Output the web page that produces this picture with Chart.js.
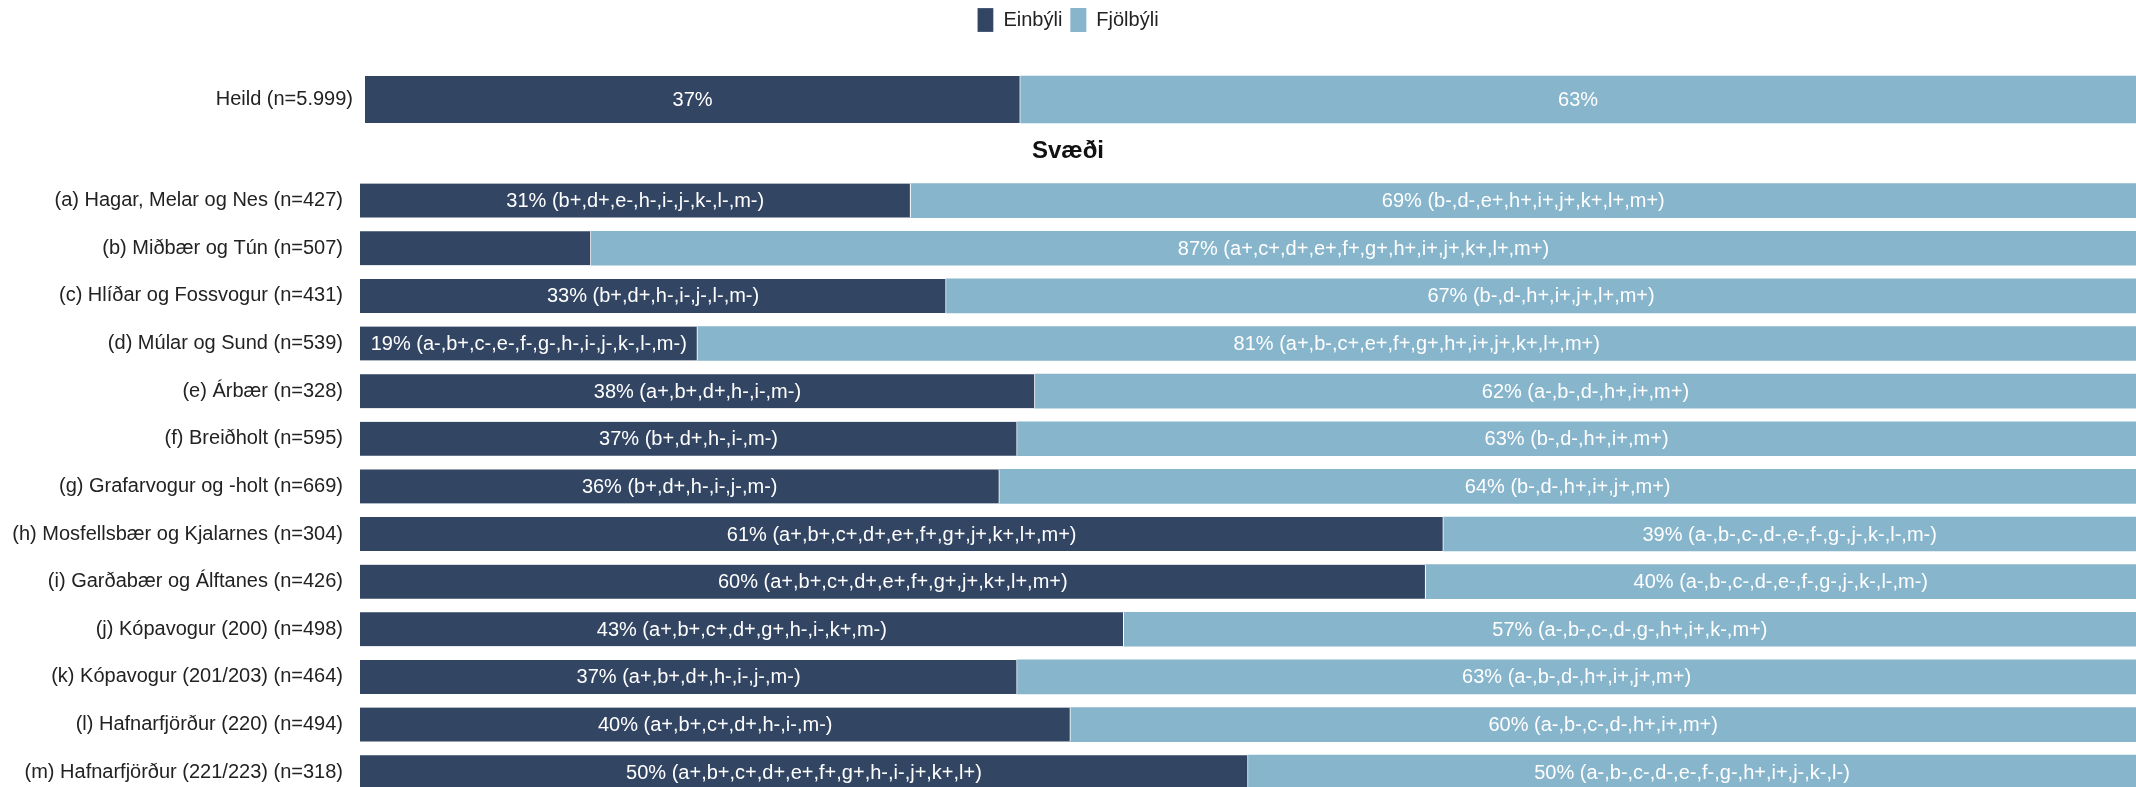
<!DOCTYPE html>
<html>
<head>
<meta charset="utf-8">
<script src="https://cdn.jsdelivr.net/npm/chart.js@4"></script>
<style>
    html, body { margin: 0; padding: 0; background: #fff; overflow: hidden; }
    body { width: 2136px; height: 787px; position: relative; }
    canvas { position: absolute; left: 0; }
    #totalChart { top: 0; }
    #regionChart { top: 130px; }
</style>
</head>
<body>
<canvas id="regionChart" width="2136" height="695"></canvas>
<canvas id="totalChart" width="2136" height="181"></canvas>
<script>
// Heild
const totalLabels = ["Heild (n=5.999)"];
const totalEinbyli = [37];
const totalFjolbyli = [63];

// Svæði
const regions = [
    "(a) Hagar, Melar og Nes (n=427)",
    "(b) Miðbær og Tún (n=507)",
    "(c) Hlíðar og Fossvogur (n=431)",
    "(d) Múlar og Sund (n=539)",
    "(e) Árbær (n=328)",
    "(f) Breiðholt (n=595)",
    "(g) Grafarvogur og -holt (n=669)",
    "(h) Mosfellsbær og Kjalarnes (n=304)",
    "(i) Garðabær og Álftanes (n=426)",
    "(j) Kópavogur (200) (n=498)",
    "(k) Kópavogur (201/203) (n=464)",
    "(l) Hafnarfjörður (220) (n=494)",
    "(m) Hafnarfjörður (221/223) (n=318)"
];
const einbyli = [31, 13, 33, 19, 38, 37, 36, 61, 60, 43, 37, 40, 50];
const fjolbyli = [69, 87, 67, 81, 62, 63, 64, 39, 40, 57, 63, 60, 50];
const einbyliSig = [
    "b+,d+,e-,h-,i-,j-,k-,l-,m-",
    "a-,c-,d-,e-,f-,g-,h-,i-,j-,k-,l-,m-",
    "b+,d+,h-,i-,j-,l-,m-",
    "a-,b+,c-,e-,f-,g-,h-,i-,j-,k-,l-,m-",
    "a+,b+,d+,h-,i-,m-",
    "b+,d+,h-,i-,m-",
    "b+,d+,h-,i-,j-,m-",
    "a+,b+,c+,d+,e+,f+,g+,j+,k+,l+,m+",
    "a+,b+,c+,d+,e+,f+,g+,j+,k+,l+,m+",
    "a+,b+,c+,d+,g+,h-,i-,k+,m-",
    "a+,b+,d+,h-,i-,j-,m-",
    "a+,b+,c+,d+,h-,i-,m-",
    "a+,b+,c+,d+,e+,f+,g+,h-,i-,j+,k+,l+"
];
const fjolbyliSig = [
    "b-,d-,e+,h+,i+,j+,k+,l+,m+",
    "a+,c+,d+,e+,f+,g+,h+,i+,j+,k+,l+,m+",
    "b-,d-,h+,i+,j+,l+,m+",
    "a+,b-,c+,e+,f+,g+,h+,i+,j+,k+,l+,m+",
    "a-,b-,d-,h+,i+,m+",
    "b-,d-,h+,i+,m+",
    "b-,d-,h+,i+,j+,m+",
    "a-,b-,c-,d-,e-,f-,g-,j-,k-,l-,m-",
    "a-,b-,c-,d-,e-,f-,g-,j-,k-,l-,m-",
    "a-,b-,c-,d-,g-,h+,i+,k-,m+",
    "a-,b-,d-,h+,i+,j+,m+",
    "a-,b-,c-,d-,h+,i+,m+",
    "a-,b-,c-,d-,e-,f-,g-,h+,i+,j-,k-,l-"
];

const DARK = "#324563";
const LIGHT = "#87b5cc";
const FONT = "'Liberation Sans', Arial, sans-serif";

Chart.defaults.font.family = FONT;
Chart.defaults.color = "#222";

// write "37% (b+,d+...)" in the middle of each segment, skip if it does not fit
const barText = {
    id: "barText",
    afterDatasetsDraw(chart) {
        const ctx = chart.ctx;
        ctx.save();
        ctx.font = "20px " + FONT;
        ctx.fillStyle = "#fff";
        ctx.textAlign = "center";
        ctx.textBaseline = "middle";
        chart.data.datasets.forEach((ds, di) => {
            const meta = chart.getDatasetMeta(di);
            meta.data.forEach((bar, i) => {
                const sig = ds.sig ? ds.sig[i] : "";
                const txt = ds.data[i] + "%" + (sig ? " (" + sig + ")" : "");
                const w = Math.abs(bar.x - bar.base);
                if (ctx.measureText(txt).width > w - 6) return;
                ctx.fillText(txt, (bar.x + bar.base) / 2, bar.y + 1);
            });
        });
        ctx.restore();
    }
};

function makeOptions(axisWidth, labelPad, extra) {
    return Object.assign({
        indexAxis: "y",
        responsive: false,
        animation: false,
        layout: { padding: 0 },
        scales: {
            x: { stacked: true, min: 0, max: 100, display: false },
            y: {
                stacked: true,
                grid: { display: false, drawTicks: false },
                border: { display: false },
                ticks: { padding: labelPad, font: { size: 20 }, color: "#222" },
                afterFit(scale) { scale.width = axisWidth; }
            }
        }
    }, extra);
}

new Chart(document.getElementById("totalChart"), {
    type: "bar",
    data: {
        labels: totalLabels,
        datasets: [
            { label: "Einbýli", data: totalEinbyli, backgroundColor: DARK,
              borderColor: "#fff", borderWidth: { top: 0, bottom: 0, left: 0, right: 1 }, borderSkipped: false,
              barThickness: 47 },
            { label: "Fjölbýli", data: totalFjolbyli, backgroundColor: LIGHT,
              borderColor: "#fff", borderWidth: 0, barThickness: 47 }
        ]
    },
    options: makeOptions(365, 12, {
        plugins: {
            legend: {
                display: true,
                position: "top",
                labels: { boxWidth: 16, boxHeight: 24, font: { size: 20 }, color: "#222", padding: 8 }
            },
            tooltip: { enabled: false }
        }
    }),
    plugins: [barText]
});

new Chart(document.getElementById("regionChart"), {
    type: "bar",
    data: {
        labels: regions,
        datasets: [
            { label: "Einbýli", data: einbyli, sig: einbyliSig, backgroundColor: DARK,
              borderColor: "#fff", borderWidth: { top: 0, bottom: 0, left: 0, right: 1 }, borderSkipped: false,
              barThickness: 34 },
            { label: "Fjölbýli", data: fjolbyli, sig: fjolbyliSig, backgroundColor: LIGHT,
              borderColor: "#fff", borderWidth: 0, barThickness: 34 }
        ]
    },
    options: makeOptions(360, 17, {
        plugins: {
            legend: { display: false },
            title: {
                display: true,
                text: "Svæði",
                color: "#111",
                font: { size: 24, weight: "bold" },
                padding: { top: 7, bottom: 11 }
            },
            tooltip: { enabled: false }
        }
    }),
    plugins: [barText]
});
</script>
</body>
</html>
